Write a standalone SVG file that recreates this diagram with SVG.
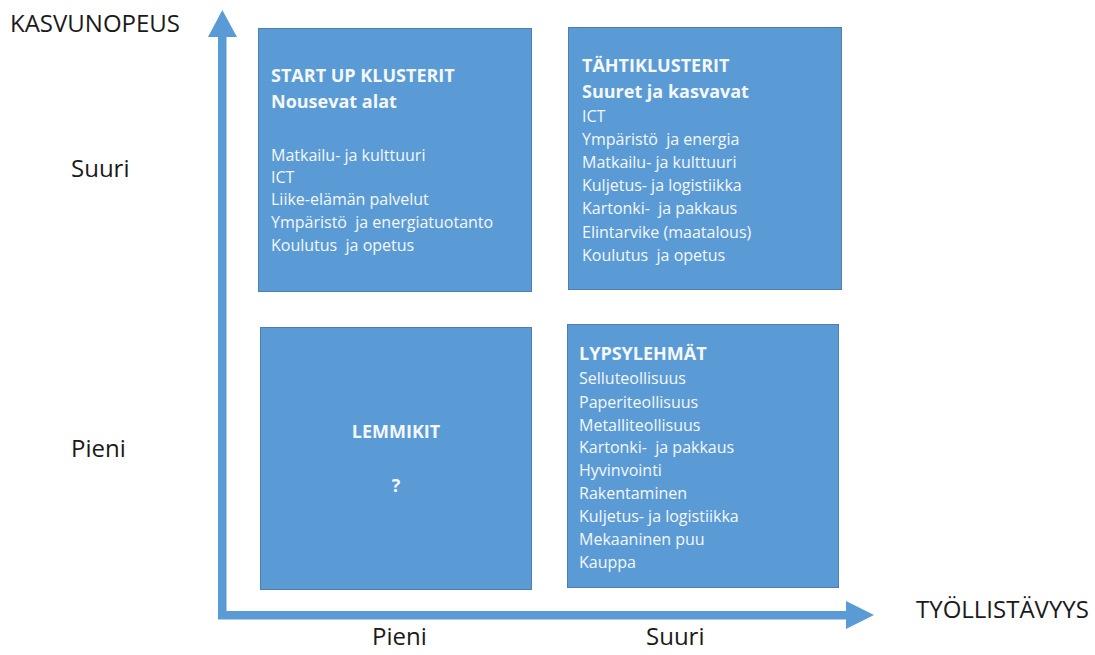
<svg xmlns="http://www.w3.org/2000/svg" width="1095" height="655" viewBox="0 0 1095 655">
<style>
.box{fill:#5B9BD5;stroke:#4F7FAE;stroke-width:1}
.t{font-family:"Open Sans","Noto Sans","DejaVu Sans",sans-serif;fill:#F4F7FB}
.h{font-size:18px;font-weight:bold}
.b{font-size:16px}
.ax{font-family:"Open Sans","Noto Sans","DejaVu Sans",sans-serif;font-size:24px;fill:#1A1A1A}
.arr{fill:#5B9BD5}
</style>
<rect width="1095" height="655" fill="#FFFFFF"/>
<g id="connectors">
<rect class="arr" x="218" y="36" width="8.5" height="583"/>
<polygon class="arr" points="222.3,10 237,37 208,37"/>
<rect class="arr" x="218" y="611" width="630" height="8.5"/>
<polygon class="arr" points="874,615 846,601 846,629"/>
</g>
<g id="axis-labels">
<text class="ax" x="10" y="32">KASVUNOPEUS</text>
<text class="ax" x="71" y="177">Suuri</text>
<text class="ax" x="71" y="457">Pieni</text>
<text class="ax" x="372" y="645">Pieni</text>
<text class="ax" x="646" y="645">Suuri</text>
<text class="ax" x="916" y="618">TYÖLLISTÄVYYS</text>
</g>
<g id="startup">
<rect class="box" x="258.5" y="28.5" width="273" height="263"/>
<text class="t h" x="271" y="82">START UP KLUSTERIT</text>
<text class="t h" x="271" y="108">Nousevat alat</text>
<text class="t b" x="271" y="161">Matkailu- ja kulttuuri</text>
<text class="t b" x="271" y="183">ICT</text>
<text class="t b" x="271" y="205">Liike-elämän palvelut</text>
<text class="t b" x="271" y="228" xml:space="preserve">Ympäristö  ja energiatuotanto</text>
<text class="t b" x="271" y="251" xml:space="preserve">Koulutus  ja opetus</text>
</g>
<g id="tahti">
<rect class="box" x="568.5" y="27.5" width="273" height="262"/>
<text class="t h" x="582" y="72">TÄHTIKLUSTERIT</text>
<text class="t h" x="582" y="98">Suuret ja kasvavat</text>
<text class="t b" x="582" y="122">ICT</text>
<text class="t b" x="582" y="145" xml:space="preserve">Ympäristö  ja energia</text>
<text class="t b" x="582" y="168">Matkailu- ja kulttuuri</text>
<text class="t b" x="582" y="191">Kuljetus- ja logistiikka</text>
<text class="t b" x="582" y="214" xml:space="preserve">Kartonki-  ja pakkaus</text>
<text class="t b" x="582" y="238">Elintarvike (maatalous)</text>
<text class="t b" x="582" y="261" xml:space="preserve">Koulutus  ja opetus</text>
</g>
<g id="lemmikit">
<rect class="box" x="260.5" y="327.5" width="271" height="262"/>
<text class="t h" x="396" y="438" text-anchor="middle">LEMMIKIT</text>
<text class="t h" x="396" y="492" text-anchor="middle">?</text>
</g>
<g id="lypsylehmat">
<rect class="box" x="567.5" y="324.5" width="271" height="263"/>
<text class="t h" x="579" y="360">LYPSYLEHMÄT</text>
<text class="t b" x="579" y="384">Selluteollisuus</text>
<text class="t b" x="579" y="408">Paperiteollisuus</text>
<text class="t b" x="579" y="431">Metalliteollisuus</text>
<text class="t b" x="579" y="453" xml:space="preserve">Kartonki-  ja pakkaus</text>
<text class="t b" x="579" y="476">Hyvinvointi</text>
<text class="t b" x="579" y="499">Rakentaminen</text>
<text class="t b" x="579" y="522">Kuljetus- ja logistiikka</text>
<text class="t b" x="579" y="545">Mekaaninen puu</text>
<text class="t b" x="579" y="568">Kauppa</text>
</g>
</svg>
